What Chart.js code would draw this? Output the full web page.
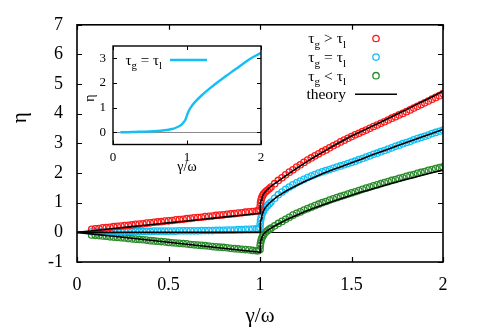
<!DOCTYPE html>
<html lang="en">
<head>
    <meta charset="UTF-8">
    <title>eta vs gamma/omega</title>
    <script src="https://cdn.jsdelivr.net/npm/chart.js@4.4.1/dist/chart.umd.min.js"></script>
    <style>
        body { margin: 0; background: #fff; }
        .wrap { position: relative; width: 479px; height: 329px; }
        #mainChart { position: absolute; left: 0; top: 0; }
        #insetChart { position: absolute; left: 80px; top: 30px; }
    </style>
</head>
<body>
<div class="wrap">
    <canvas id="mainChart" width="479" height="329"></canvas>
    <canvas id="insetChart" width="190" height="145"></canvas>
</div>

<script>
    // ---- data ----
    const gammaData = [
        0.08,0.10,0.12,0.14,0.16,0.18,0.20,0.22,0.24,0.26,
        0.28,0.30,0.32,0.34,0.36,0.38,0.40,0.42,0.44,0.46,
        0.48,0.50,0.52,0.54,0.56,0.58,0.60,0.62,0.64,0.66,
        0.68,0.70,0.72,0.74,0.76,0.78,0.80,0.82,0.84,0.86,
        0.88,0.90,0.92,0.94,0.96,0.98,
        0.99,1.0,1.001,1.003,1.006,1.01,1.015,1.02,1.03,1.04,1.05,1.06,1.08,
        1.10,1.12,1.14,1.16,1.18,1.20,1.22,1.24,1.26,1.28,
        1.30,1.32,1.34,1.36,1.38,1.40,1.42,1.44,1.46,1.48,
        1.50,1.52,1.54,1.56,1.58,1.60,1.62,1.64,1.66,1.68,
        1.70,1.72,1.74,1.76,1.78,1.80,1.82,1.84,1.86,1.88,
        1.90,1.92,1.94,1.96,1.98,2.00
    ];
    // tau_g > tau_l
    const etaGreater = [
        0.10,0.12,0.13,0.15,0.16,0.17,0.19,0.20,0.21,0.23,
        0.24,0.25,0.27,0.28,0.29,0.31,0.32,0.34,0.35,0.36,
        0.38,0.39,0.40,0.42,0.43,0.44,0.46,0.47,0.49,0.50,
        0.51,0.53,0.54,0.55,0.57,0.58,0.59,0.61,0.62,0.63,
        0.65,0.66,0.68,0.69,0.70,0.72,
        0.73,0.76,0.88,1.00,1.10,1.18,1.25,1.30,1.37,1.42,1.47,1.53,1.64,
        1.75,1.84,1.94,2.03,2.11,2.20,2.28,2.36,2.44,2.51,
        2.58,2.65,2.72,2.78,2.85,2.92,2.98,3.05,3.11,3.17,
        3.23,3.29,3.34,3.40,3.45,3.51,3.57,3.62,3.68,3.73,
        3.79,3.85,3.90,3.96,4.01,4.07,4.13,4.19,4.25,4.31,
        4.37,4.43,4.49,4.55,4.61,4.68
    ];
    // tau_g = tau_l
    const etaEqual = [
        0.02,0.02,0.02,0.02,0.02,0.02,0.02,0.03,0.03,0.03,
        0.03,0.03,0.03,0.03,0.03,0.03,0.03,0.04,0.04,0.04,
        0.04,0.04,0.04,0.04,0.05,0.05,0.05,0.05,0.05,0.05,
        0.06,0.06,0.06,0.06,0.07,0.07,0.07,0.08,0.08,0.08,
        0.09,0.09,0.10,0.10,0.11,0.12,
        0.13,0.16,0.28,0.40,0.50,0.60,0.68,0.74,0.83,0.90,0.96,1.02,1.15,
        1.27,1.36,1.45,1.53,1.60,1.67,1.73,1.79,1.85,1.90,
        1.95,2.00,2.04,2.08,2.12,2.16,2.20,2.24,2.28,2.32,
        2.36,2.40,2.45,2.49,2.54,2.58,2.63,2.67,2.72,2.76,
        2.81,2.85,2.90,2.94,2.99,3.03,3.07,3.12,3.16,3.20,
        3.24,3.28,3.33,3.37,3.41,3.45
    ];
    // tau_g < tau_l
    const etaLess = [
        -0.09,-0.10,-0.11,-0.12,-0.13,-0.15,-0.16,-0.17,-0.18,-0.19,
        -0.21,-0.22,-0.23,-0.24,-0.25,-0.26,-0.28,-0.29,-0.30,-0.31,
        -0.32,-0.34,-0.35,-0.36,-0.37,-0.38,-0.39,-0.41,-0.42,-0.43,
        -0.44,-0.45,-0.46,-0.48,-0.49,-0.50,-0.51,-0.52,-0.54,-0.55,
        -0.56,-0.57,-0.58,-0.59,-0.61,-0.62,
        -0.62,-0.58,-0.45,-0.36,-0.27,-0.19,-0.12,-0.07,0.00,0.05,0.10,0.14,0.22,
        0.30,0.37,0.44,0.51,0.58,0.64,0.69,0.75,0.80,0.85,
        0.90,0.95,1.00,1.04,1.09,1.13,1.17,1.21,1.25,1.29,
        1.33,1.37,1.41,1.45,1.49,1.53,1.57,1.60,1.64,1.68,
        1.71,1.75,1.78,1.82,1.85,1.89,1.92,1.95,1.99,2.02,
        2.05,2.09,2.12,2.15,2.18,2.21
    ];

    const gammaTheory = [
        0,0.1,0.2,0.3,0.4,0.5,0.6,0.7,0.8,0.9,0.99,1.0,
        1.001,1.003,1.006,1.01,1.02,1.03,1.05,1.07,1.1,
        1.15,1.2,1.25,1.3,1.35,1.4,1.45,1.5,1.55,1.6,1.65,1.7,1.75,1.8,1.85,1.9,1.95,2.0
    ];
    const theoryGreater = [
        0,0.064,0.128,0.192,0.256,0.32,0.384,0.448,0.512,0.576,0.634,0.64,
        0.85,0.98,1.08,1.17,1.30,1.38,1.50,1.60,1.73,
        1.95,2.16,2.36,2.55,2.73,2.91,3.08,3.25,3.39,3.54,3.69,3.84,3.99,4.14,4.30,4.45,4.60,4.76
    ];
    const theoryEqual = [
        0,0,0,0,0,0,0,0,0,0,0,0,
        0.20,0.33,0.45,0.56,0.73,0.84,0.98,1.09,1.23,
        1.42,1.58,1.73,1.87,2.00,2.12,2.23,2.35,2.46,2.58,2.69,2.80,2.92,3.03,3.14,3.25,3.36,3.47
    ];
    const theoryLess = [
        0,-0.067,-0.134,-0.201,-0.268,-0.335,-0.402,-0.469,-0.536,-0.603,-0.663,-0.67,
        -0.45,-0.33,-0.24,-0.17,-0.06,0.01,0.10,0.18,0.28,
        0.44,0.58,0.71,0.83,0.94,1.05,1.15,1.25,1.35,1.44,1.53,1.62,1.71,1.79,1.87,1.95,2.03,2.10
    ];

    // inset: tau_g = tau_l
    const gammaInset = [0.1,0.2,0.3,0.4,0.5,0.6,0.7,0.75,0.8,0.85,0.9,0.93,0.96,0.98,1.0,1.02,1.05,1.1,1.2,1.3,1.4,1.5,1.6,1.7,1.8,1.9,2.0];
    const etaInset   = [0.0,0.0,0.01,0.02,0.03,0.05,0.08,0.10,0.13,0.18,0.25,0.32,0.42,0.52,0.68,0.84,1.0,1.2,1.5,1.76,2.0,2.22,2.44,2.65,2.87,3.06,3.22];

    const legendLabels = ['τ_g > τ_l', 'τ_g = τ_l', 'τ_g < τ_l', 'theory'];
    const xTickValues = [0, 0.5, 1, 1.5, 2];
    const yTickValues = [-1, 0, 1, 2, 3, 4, 5, 6, 7];
    const insetXTicks = [0, 1, 2];
    const insetYTicks = [0, 1, 2, 3];

    // ---- styles ----
    const RED = '#ff1a1a';
    const CYAN = '#14bff5';
    const GREEN = '#2a8c2a';
    const SERIF = '"Liberation Serif", "DejaVu Serif", serif';

    Chart.defaults.font.family = SERIF;
    Chart.defaults.color = '#000';

    function pts(xs, ys) {
        return xs.map(function (x, i) { return { x: x, y: ys[i] }; });
    }
    function plain(v) { return String(v); }

    // text with _x subscripts
    function drawRich(ctx, str, x, y, size, align) {
        var parts = [];
        for (var i = 0; i < str.length; i++) {
            if (str[i] === '_') { parts.push({ t: str[i + 1], sub: true }); i++; }
            else if (parts.length && !parts[parts.length - 1].sub) parts[parts.length - 1].t += str[i];
            else parts.push({ t: str[i], sub: false });
        }
        var total = 0;
        parts.forEach(function (p) {
            ctx.font = (p.sub ? size * 0.72 : size) + 'px ' + SERIF;
            p.w = ctx.measureText(p.t).width;
            total += p.w;
        });
        var cx = align === 'right' ? x - total : x;
        ctx.textAlign = 'left';
        ctx.textBaseline = 'alphabetic';
        parts.forEach(function (p) {
            ctx.font = (p.sub ? size * 0.72 : size) + 'px ' + SERIF;
            ctx.fillText(p.t, cx, p.sub ? y + size * 0.3 : y);
            cx += p.w;
        });
    }

    // border + inward ticks on all four sides (gnuplot look)
    const framePlugin = {
        id: 'frame',
        afterDatasetsDraw(chart, args, opts) {
            var ctx = chart.ctx, a = chart.chartArea, sx = chart.scales.x, sy = chart.scales.y;
            ctx.save();
            ctx.strokeStyle = '#000';
            ctx.lineWidth = opts.width;
            ctx.beginPath();
            sx.ticks.forEach(function (t) {
                var px = Math.round(sx.getPixelForValue(t.value)) + 0.5;
                ctx.moveTo(px, a.bottom); ctx.lineTo(px, a.bottom - opts.len);
                ctx.moveTo(px, a.top); ctx.lineTo(px, a.top + opts.len);
            });
            sy.ticks.forEach(function (t) {
                var py = Math.round(sy.getPixelForValue(t.value)) + 0.5;
                ctx.moveTo(a.left, py); ctx.lineTo(a.left + opts.len, py);
                ctx.moveTo(a.right, py); ctx.lineTo(a.right - opts.len, py);
            });
            ctx.stroke();
            ctx.lineWidth = opts.width + 0.4;
            ctx.strokeRect(a.left, a.top, a.right - a.left, a.bottom - a.top);
            ctx.restore();
        }
    };

    // axis titles drawn by hand so they can sit where the original has them
    const titlesPlugin = {
        id: 'titles',
        afterDraw(chart, args, opts) {
            var ctx = chart.ctx, a = chart.chartArea;
            ctx.save();
            ctx.fillStyle = '#000';
            ctx.font = opts.size + 'px ' + SERIF;
            ctx.textAlign = 'center';
            ctx.textBaseline = 'middle';
            ctx.fillText(opts.x, (a.left + a.right) / 2, a.bottom + opts.xOffset);
            ctx.translate(a.left - opts.yOffset, a.top + opts.yAt);
            ctx.rotate(-Math.PI / 2);
            ctx.fillText(opts.y, 0, 0);
            ctx.restore();
        }
    };

    // key with sub-scripted labels
    const keyPlugin = {
        id: 'key',
        afterDraw(chart, args, opts) {
            var ctx = chart.ctx;
            ctx.save();
            chart.data.datasets.forEach(function (ds) {
                var row = opts.rows[ds.label];
                if (row === undefined) return;
                var y = opts.top + row * opts.step;
                ctx.fillStyle = '#000';
                drawRich(ctx, ds.label, opts.textRight, y + opts.size * 0.32, opts.size, 'right');
                ctx.strokeStyle = ds.borderColor;
                if (ds.showLine === false) {
                    ctx.lineWidth = ds.pointBorderWidth;
                    ctx.beginPath();
                    ctx.arc(opts.sampleMid, y, ds.pointRadius, 0, Math.PI * 2);
                    ctx.stroke();
                } else {
                    ctx.lineWidth = ds.borderWidth;
                    ctx.beginPath();
                    ctx.moveTo(opts.sampleMid - opts.sampleHalf, y);
                    ctx.lineTo(opts.sampleMid + opts.sampleHalf, y);
                    ctx.stroke();
                }
            });
            ctx.restore();
        }
    };

    function zeroLine(color) {
        return function (c) { return c.tick && c.tick.value === 0 ? color : 'rgba(0,0,0,0)'; };
    }

    function markers(label, ys, color) {
        return {
            label: label, data: pts(gammaData, ys), showLine: false,
            pointStyle: 'circle', pointRadius: 3.2, pointBorderWidth: 1.3,
            borderColor: color, backgroundColor: 'rgba(0,0,0,0)', order: 1
        };
    }
    function theory(ys, withKey) {
        return {
            label: withKey ? 'theory' : '', data: pts(gammaTheory, ys), showLine: true,
            pointRadius: 0, borderColor: '#000', borderWidth: 1.6, order: 0
        };
    }

    new Chart(document.getElementById('mainChart'), {
        type: 'scatter',
        data: {
            datasets: [
                markers(legendLabels[0], etaGreater, RED),
                markers(legendLabels[1], etaEqual, CYAN),
                markers(legendLabels[2], etaLess, GREEN),
                theory(theoryGreater, true),
                theory(theoryEqual, false),
                theory(theoryLess, false)
            ]
        },
        options: {
            responsive: false,
            animation: false,
            devicePixelRatio: 1,
            layout: { padding: { top: 24, right: 36, left: 0, bottom: 0 } },
            scales: {
                x: {
                    type: 'linear', min: 0, max: 2,
                    afterBuildTicks: function (s) { s.ticks = xTickValues.map(function (v) { return { value: v }; }); },
                    afterFit: function (s) { s.height = 67; },
                    ticks: { font: { size: 18 }, padding: 12, maxRotation: 0, callback: plain },
                    grid: { display: false, drawTicks: false },
                    border: { display: false }
                },
                y: {
                    type: 'linear', min: -1, max: 7,
                    afterBuildTicks: function (s) { s.ticks = yTickValues.map(function (v) { return { value: v }; }); },
                    afterFit: function (s) { s.width = 77; },
                    ticks: { font: { size: 18 }, padding: 14, callback: plain },
                    grid: { drawTicks: false, color: zeroLine('#000'), lineWidth: 1 },
                    border: { display: false }
                }
            },
            plugins: {
                legend: { display: false },
                tooltip: { enabled: false },
                frame: { width: 1.2, len: 5 },
                titles: { x: 'γ/ω', y: 'η', size: 21, xOffset: 54, yOffset: 57, yAt: 93 },
                key: {
                    rows: { 'τ_g > τ_l': 0, 'τ_g = τ_l': 1, 'τ_g < τ_l': 2, 'theory': 3 },
                    top: 38.5, step: 18.6, size: 15.5, textRight: 346,
                    sampleMid: 376, sampleHalf: 21
                }
            }
        },
        plugins: [framePlugin, titlesPlugin, keyPlugin]
    });

    // ---- inset ----
    new Chart(document.getElementById('insetChart'), {
        type: 'scatter',
        data: {
            datasets: [{
                label: 'τ_g = τ_l', data: pts(gammaInset, etaInset), showLine: true,
                pointRadius: 0, borderColor: CYAN, borderWidth: 2.4, tension: 0.3
            }]
        },
        options: {
            responsive: false,
            animation: false,
            devicePixelRatio: 1,
            layout: { padding: { top: 16, right: 9, left: 0, bottom: 0 } },
            scales: {
                x: {
                    type: 'linear', min: 0, max: 2,
                    afterBuildTicks: function (s) { s.ticks = insetXTicks.map(function (v) { return { value: v }; }); },
                    afterFit: function (s) { s.height = 30.5; },
                    ticks: { font: { size: 13 }, padding: 5, maxRotation: 0, callback: plain },
                    grid: { display: false, drawTicks: false },
                    border: { display: false }
                },
                y: {
                    type: 'linear', min: -0.5, max: 3.5,
                    afterBuildTicks: function (s) { s.ticks = insetYTicks.map(function (v) { return { value: v }; }); },
                    afterFit: function (s) { s.width = 33; },
                    ticks: { font: { size: 13 }, padding: 7, callback: plain },
                    grid: { drawTicks: false, color: zeroLine('#8a8a8a'), lineWidth: 1 },
                    border: { display: false }
                }
            },
            plugins: {
                legend: { display: false },
                tooltip: { enabled: false },
                frame: { width: 1, len: 4 },
                titles: { x: 'γ/ω', y: 'η', size: 14, xOffset: 23, yOffset: 23, yAt: 52 },
                key: {
                    rows: { 'τ_g = τ_l': 0 },
                    top: 30, step: 0, size: 15, textRight: 82,
                    sampleMid: 108.5, sampleHalf: 18.5
                }
            }
        },
        plugins: [framePlugin, titlesPlugin, keyPlugin]
    });
</script>
</body>
</html>
